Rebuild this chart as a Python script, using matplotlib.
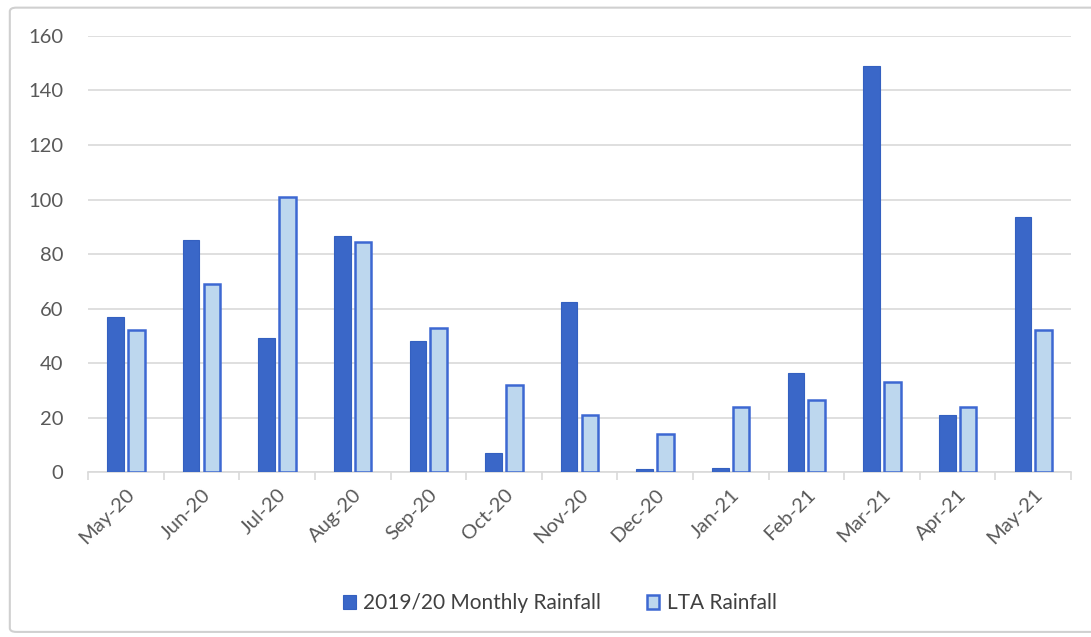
import matplotlib
matplotlib.use("Agg")
import matplotlib.pyplot as plt
import numpy as np
from matplotlib.patches import FancyBboxPatch

# Data
months = ['May-20', 'Jun-20', 'Jul-20', 'Aug-20', 'Sep-20', 'Oct-20', 'Nov-20',
          'Dec-20', 'Jan-21', 'Feb-21', 'Mar-21', 'Apr-21', 'May-21']
monthly_rain = [57, 85, 49, 86.5, 48, 7, 62.5, 1, 1.5, 36.5, 149, 21, 93.5]
lta_rain = [52, 69, 101, 84.5, 53, 32, 21, 14, 24, 26.5, 33, 24, 52]

plt.rcParams['font.family'] = ['Lato', 'DejaVu Sans']

fig = plt.figure(figsize=(10.91, 6.37), dpi=100)
ax = fig.add_axes([0.0807, 0.259, 0.9010, 0.6845])

# outer chart frame
frame = FancyBboxPatch((0.009, 0.008), 1.2, 0.98, boxstyle='round,pad=0,rounding_size=0.006',
                       transform=fig.transFigure, fill=False, edgecolor='#D0D0D0', linewidth=1.5)
fig.patches.append(frame)

x = np.arange(len(months))
w = 0.22
gap = 0.055
ax.bar(x - (w + gap) / 2, monthly_rain, width=w, color='#3A67C8', edgecolor='#3460C0',
       linewidth=0.8, label='2019/20 Monthly Rainfall', zorder=3)
ax.bar(x + (w + gap) / 2, lta_rain, width=w, color='#BDD7EE', edgecolor='#3D68D2',
       linewidth=1.8, label='LTA Rainfall', zorder=3)

ax.set_xlim(-0.5, len(months) - 0.5)
ax.set_ylim(0, 160)
ax.set_yticks(range(0, 161, 20))
ax.yaxis.grid(True, color='#D9D9D9', linewidth=1.2)
ax.set_axisbelow(True)

for side in ['top', 'right', 'left']:
    ax.spines[side].set_visible(False)
ax.spines['bottom'].set_color('#D9D9D9')
ax.spines['bottom'].set_linewidth(1.2)

ax.set_xticks(x)
ax.set_xticklabels(months, rotation=45, ha='right', rotation_mode='anchor')
ax.set_xticks(np.arange(-0.5, len(months), 1), minor=True)
ax.tick_params(axis='x', which='major', length=0, pad=10, labelsize=14.5, labelcolor='#595959')
ax.tick_params(axis='x', which='minor', length=6, color='#D9D9D9', width=1.2)
ax.tick_params(axis='y', length=0, pad=18, labelsize=14.5, labelcolor='#595959')

ax.legend(loc='upper center', bbox_to_anchor=(0.48, -0.235), ncol=2, frameon=False,
          fontsize=15, labelcolor='#404040', handlelength=0.6, handleheight=0.6,
          handletextpad=0.35, columnspacing=2.2)

fig.savefig('out.png', dpi=100)
